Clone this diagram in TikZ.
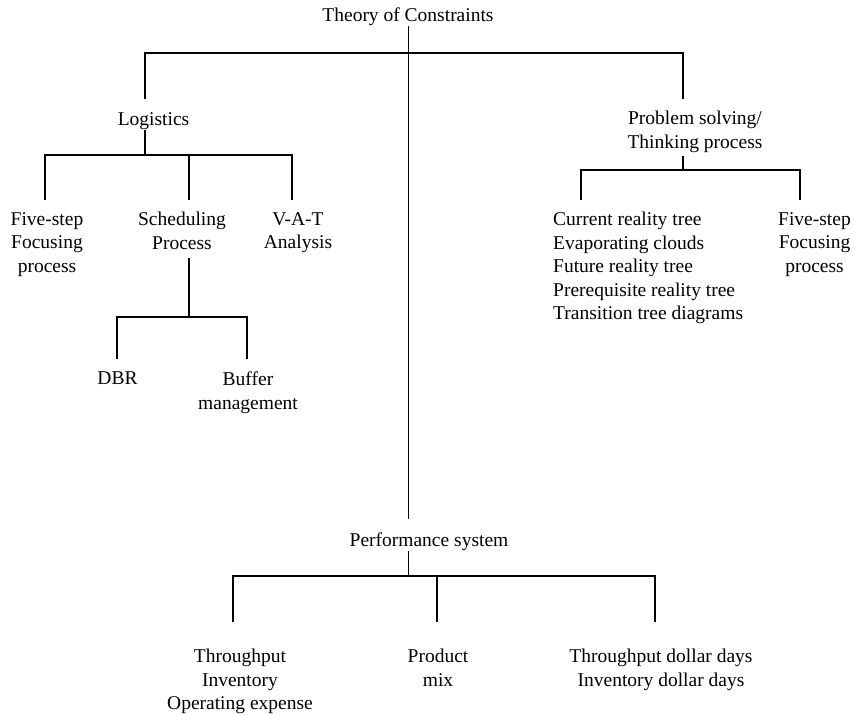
\documentclass[tikz,border=0pt]{standalone}
\usepackage{fontspec}
\setmainfont{Liberation Serif}
\begin{document}
\begin{tikzpicture}[x=1pt,y=-1pt,
  lbl/.style={anchor=north,align=center,inner sep=0pt,font=\fontsize{19.5}{23.5}\selectfont},
  lnk/.style={line width=1.3pt,line cap=rect},
  gapA/.style={shorten >=13pt},
  gapB/.style={shorten >=28pt}]
\useasboundingbox (0,0) rectangle (855,715);
% nodes
\node[lbl] (T) at (408,8) {Theory of Constraints};
\node[lbl] (L) at (153.5,112) {Logistics};
\node[lbl] (PS) at (695,111) {Problem solving/\\Thinking process};
\node[lbl] (F1) at (47,212) {Five-step\\Focusing\\process};
\node[lbl] (S) at (182,212) {Scheduling\\Process};
\node[lbl] (V) at (298,212) {V-A-T\\Analysis};
\node[lbl,anchor=north west,align=left] (CR) at (553,212) {Current reality tree\\Evaporating clouds\\Future reality tree\\Prerequisite reality tree\\Transition tree diagrams};
\node[lbl] (F2) at (814.5,212) {Five-step\\Focusing\\process};
\node[lbl] (D) at (117.5,372) {DBR};
\node[lbl] (B) at (248,372) {Buffer\\management};
\node[lbl] (P) at (429,533) {Performance system};
\node[lbl] (TI) at (240,649) {Throughput\\Inventory\\Operating expense};
\node[lbl] (PM) at (438,649) {Product\\mix};
\node[lbl] (TD) at (661,649) {Throughput dollar days\\Inventory dollar days};
% junction coordinates
\coordinate (jM) at (408.5,53);
\coordinate (jL) at (145,53);
\coordinate (jR) at (683,53);
\coordinate (b2) at (145,155);
\coordinate (b2a) at (45,155);
\coordinate (b2b) at (189,155);
\coordinate (b2c) at (292,155);
\coordinate (b3) at (189,317);
\coordinate (b3a) at (117,317);
\coordinate (b3b) at (247,317);
\coordinate (b4) at (683,170);
\coordinate (b4a) at (581,170);
\coordinate (b4b) at (800,170);
\coordinate (b5) at (408.5,576);
\coordinate (b5a) at (233,576);
\coordinate (b5b) at (437,576);
\coordinate (b5c) at (655,576);
% main trunk
\draw[lnk,line cap=butt,shorten >=14pt] (jM |- T.south) -- (jM |- P.north);
\draw[lnk] (jL) -- (jR);
\draw[lnk,shorten >=14pt] (jL) -- (jL |- L.north);
\draw[lnk,shorten >=13pt] (jR) -- (jR |- PS.north);
% logistics
\draw[lnk,line cap=butt] (b2 |- L.south) -- (b2);
\draw[lnk] (b2a) -- (b2c);
\draw[lnk,gapA] (b2a) -- (b2a |- F1.north);
\draw[lnk,gapA] (b2b) -- (b2b |- S.north);
\draw[lnk,gapA] (b2c) -- (b2c |- V.north);
% scheduling
\draw[lnk,line cap=butt,shorten <=8pt] (b3 |- S.south) -- (b3);
\draw[lnk] (b3a) -- (b3b);
\draw[lnk,shorten >=14pt] (b3a) -- (b3a |- D.north);
\draw[lnk,shorten >=14pt] (b3b) -- (b3b |- B.north);
% problem solving
\draw[lnk,line cap=butt,shorten <=3pt] (b4 |- PS.south) -- (b4);
\draw[lnk] (b4a) -- (b4b);
\draw[lnk,gapA] (b4a) -- (b4a |- CR.north);
\draw[lnk,gapA] (b4b) -- (b4b |- F2.north);
% performance
\draw[lnk,line cap=butt] (b5 |- P.south) -- (b5);
\draw[lnk] (b5a) -- (b5c);
\draw[lnk,gapB] (b5a) -- (b5a |- TI.north);
\draw[lnk,gapB] (b5b) -- (b5b |- PM.north);
\draw[lnk,gapB] (b5c) -- (b5c |- TD.north);
\end{tikzpicture}
\end{document}
